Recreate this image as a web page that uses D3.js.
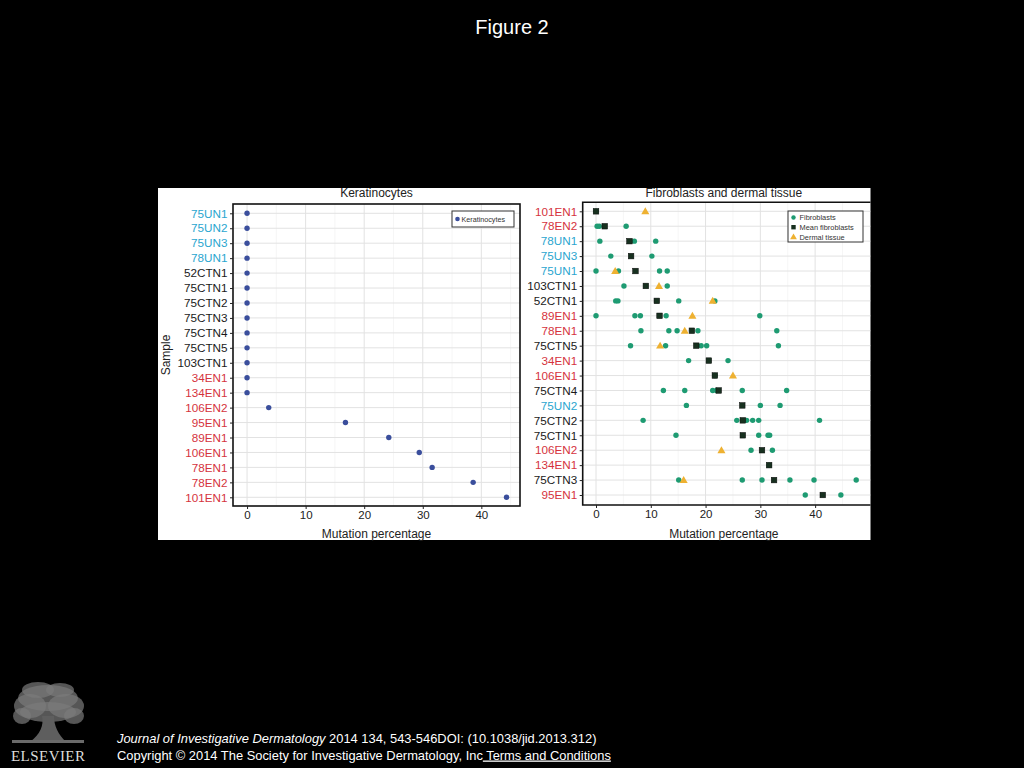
<!DOCTYPE html>
<html><head><meta charset="utf-8">
<script src="https://cdn.jsdelivr.net/npm/d3@7"></script>
<style>html,body{margin:0;padding:0;background:#000;}svg{display:block;font-family:"Liberation Sans",Arial,sans-serif;}</style>
</head><body>
<svg id="c" width="1024" height="768"></svg>
<script>
// ---------- data ----------
const kerSamples = ["75UN1","75UN2","75UN3","78UN1","52CTN1","75CTN1","75CTN2","75CTN3","75CTN4","75CTN5","103CTN1","34EN1","134EN1","106EN2","95EN1","89EN1","106EN1","78EN1","78EN2","101EN1"];
const kerValues = [0,0,0,0,0,0,0,0,0,0,0,0,0,3.7,16.8,24.2,29.4,31.6,38.6,44.3];

const fibSamples = ["101EN1","78EN2","78UN1","75UN3","75UN1","103CTN1","52CTN1","89EN1","78EN1","75CTN5","34EN1","106EN1","75CTN4","75UN2","75CTN2","75CTN1","106EN2","134EN1","75CTN3","95EN1"];
const fibroblastValues = [
  [0],
  [0.2,0.6,5.5],
  [0.7,7.0,10.9],
  [2.7,10.2],
  [0,4.1,11.6,13.0],
  [5.1,13.0],
  [3.6,4.0,15.1,21.7],
  [0,7.1,8.1,12.8,29.9],
  [8.2,13.3,14.8,18.6,33.0],
  [6.3,12.7,19.2,20.2,33.3],
  [16.9,24.1],
  [21.7],
  [12.3,16.2,21.3,22.0,26.7,34.8],
  [16.5,30.0,33.6],
  [8.6,25.7,27.5,28.6,29.7,40.8],
  [14.6,29.7,31.4,31.7],
  [28.3,32.2],
  [31.6],
  [15.1,26.7,30.3,35.4,39.8,47.5],
  [38.2,44.7]
];
const meanFibroblasts = [0,1.6,6.1,6.4,7.2,9.1,11.1,11.6,17.5,18.3,20.6,21.7,22.4,26.7,26.8,26.8,30.3,31.6,32.5,41.4];
const dermalTissue = [9.0,null,null,null,3.5,11.5,21.3,17.6,16.2,11.7,null,25.0,null,null,null,null,22.9,null,16.0,null];

const xTicks = [0,10,20,30,40];
const xMinor = [5,15,25,35,45];

// ---------- style ----------
const C_UN = "#2aa6cf", C_EN = "#d5333d", C_CTN = "#1a1a1a";
const C_KER = "#3a4e9c", C_FIB = "#1e9b72", C_MEAN = "#17301f", C_DERM = "#eeb131";
function labelColor(s){ return s.includes("UN") ? C_UN : (s.includes("EN") ? C_EN : C_CTN); }

const svg = d3.select("#c");
svg.append("rect").attr("width",1024).attr("height",768).attr("fill","#000");
svg.append("text").attr("x",512).attr("y",34).attr("text-anchor","middle")
  .attr("fill","#fff").attr("font-size",20).text("Figure 2");

// white figure area
svg.append("rect").attr("x",158).attr("y",188).attr("width",712.5).attr("height",352).attr("fill","#fff");

function panel(opts){
  const {x, y, samples, left, right, top, bottom, title, clipRight} = opts;
  const g = svg.append("g");
  const cid = "clip"+Math.round(left);
  svg.append("clipPath").attr("id",cid).append("rect")
    .attr("x",left).attr("y",top).attr("width",right-left).attr("height",bottom-top);
  const grid = g.append("g").attr("clip-path",`url(#${cid})`);
  grid.selectAll(".mn").data(xMinor).join("line")
    .attr("x1",d=>x(d)).attr("x2",d=>x(d)).attr("y1",top).attr("y2",bottom)
    .attr("stroke","#f0f0f0").attr("stroke-width",0.6);
  grid.selectAll(".mj").data(xTicks).join("line")
    .attr("x1",d=>x(d)).attr("x2",d=>x(d)).attr("y1",top).attr("y2",bottom)
    .attr("stroke","#e2e2e2").attr("stroke-width",1);
  grid.selectAll(".hy").data(samples).join("line")
    .attr("x1",left).attr("x2",right).attr("y1",d=>y(d)).attr("y2",d=>y(d))
    .attr("stroke","#e2e2e2").attr("stroke-width",1);
  if(!clipRight){
    g.append("rect").attr("x",left).attr("y",top).attr("width",right-left).attr("height",bottom-top)
      .attr("fill","none").attr("stroke","#111").attr("stroke-width",1.6);
  } else {
    g.append("path").attr("d",`M${right},${top}H${left}V${bottom}H${right}`)
      .attr("fill","none").attr("stroke","#111").attr("stroke-width",1.6);
  }
  const ax = g.append("g").attr("transform",`translate(0,${bottom})`)
    .call(d3.axisBottom(x).tickValues(xTicks).tickSize(3).tickPadding(2));
  ax.select(".domain").remove();
  ax.selectAll("line").attr("stroke","#222");
  ax.selectAll("text").attr("font-size",11.5).attr("fill","#222")
    .attr("font-family","Liberation Sans, Arial, sans-serif");
  const ay = g.append("g").attr("transform",`translate(${left},0)`)
    .call(d3.axisLeft(y).tickSize(3).tickPadding(2.5));
  ay.select(".domain").remove();
  ay.selectAll("line").attr("stroke","#222");
  ay.selectAll("text").attr("font-size",11.7).attr("fill",d=>labelColor(d))
    .attr("font-family","Liberation Sans, Arial, sans-serif");
  g.append("text").attr("x",(left+ (opts.titleRight||right))/2).attr("y",197).attr("text-anchor","middle")
    .attr("font-size",12).attr("fill","#222").text(title);
  g.append("text").attr("x",(left+(opts.titleRight||right))/2).attr("y",538).attr("text-anchor","middle")
    .attr("font-size",12).attr("fill","#222").text("Mutation percentage");
  return g;
}

// ---------- left panel ----------
const xK = d3.scaleLinear().domain([-2.4,46.6]).range([233,520]);
const yK = d3.scalePoint().domain(kerSamples).range([213.3,497.3]);
const gK = panel({x:xK,y:yK,samples:kerSamples,left:233,right:520,top:204,bottom:506,title:"Keratinocytes"});
gK.selectAll(".k").data(kerSamples).join("circle")
  .attr("cx",(d,i)=>xK(kerValues[i])).attr("cy",d=>yK(d)).attr("r",2.7).attr("fill",C_KER);
svg.append("text").attr("transform","translate(169.5,355) rotate(-90)").attr("text-anchor","middle")
  .attr("font-size",12).attr("fill","#222").text("Sample");
const lg = svg.append("g");
lg.append("rect").attr("x",452).attr("y",211).attr("width",62).attr("height",16)
  .attr("fill","#fff").attr("stroke","#333").attr("stroke-width",1);
lg.append("circle").attr("cx",457.5).attr("cy",219).attr("r",2.3).attr("fill",C_KER);
lg.append("text").attr("x",461.5).attr("y",221.5).attr("font-size",7.2).attr("fill","#333").text("Keratinocytes");

// ---------- right panel ----------
const xF = d3.scaleLinear().domain([-2.43,50.2]).range([582.7,871]);
const yF = d3.scalePoint().domain(fibSamples).range([211.3,495]);
const gF = panel({x:xF,y:yF,samples:fibSamples,left:582.7,right:870.5,top:202.3,bottom:505,
  title:"Fibroblasts and dermal tissue",clipRight:true,titleRight:865});

const fibPoints = fibSamples.flatMap((s,i)=>fibroblastValues[i].map(v=>({s,v})));
gF.selectAll(".f").data(fibPoints).join("circle")
  .attr("cx",d=>xF(d.v)).attr("cy",d=>yF(d.s)).attr("r",2.7).attr("fill",C_FIB);
gF.selectAll(".m").data(fibSamples).join("rect")
  .attr("x",(d,i)=>xF(meanFibroblasts[i])-2.8).attr("y",d=>yF(d)-2.8)
  .attr("width",5.6).attr("height",5.6).attr("fill",C_MEAN).attr("stroke","#0a0a0a").attr("stroke-width",0.5);
const dermPoints = fibSamples.map((s,i)=>({s,v:dermalTissue[i]})).filter(d=>d.v!==null);
const tri = d3.symbol().type(d3.symbolTriangle).size(28);
gF.selectAll(".d").data(dermPoints).join("path")
  .attr("d",tri).attr("transform",d=>`translate(${xF(d.v)},${yF(d.s)+0.6})`).attr("fill",C_DERM);

const rg = svg.append("g");
rg.append("rect").attr("x",788).attr("y",211).attr("width",75).attr("height",31)
  .attr("fill","#fff").attr("stroke","#333").attr("stroke-width",1);
rg.append("circle").attr("cx",793.5).attr("cy",217.5).attr("r",2.2).attr("fill",C_FIB);
rg.append("rect").attr("x",791.3).attr("y",225).attr("width",4.4).attr("height",4.4).attr("fill",C_MEAN);
rg.append("path").attr("d",d3.symbol().type(d3.symbolTriangle).size(20)).attr("transform","translate(793.5,237.3)").attr("fill",C_DERM);
const legT = ["Fibroblasts","Mean fibroblasts","Dermal tissue"];
rg.selectAll(".lt").data(legT).join("text").attr("x",799.5).attr("y",(d,i)=>220+i*10)
  .attr("font-size",7.4).attr("fill","#333").text(d=>d);

// ---------- footer ----------
const logo = svg.append("g");
const canopy = [[48,698,30,13],[30,706,16,12],[66,706,18,12],[48,712,28,10],[22,716,9,8],[74,716,10,8],[38,690,16,8],[60,690,14,7]];
logo.selectAll("ellipse").data(canopy).join("ellipse")
  .attr("cx",d=>d[0]).attr("cy",d=>d[1]).attr("rx",d=>d[2]).attr("ry",d=>d[3])
  .attr("fill","#7a7a7a").attr("opacity",0.7);
logo.append("path").attr("d","M42,716 C44,726 40,734 30,742 L66,742 C58,734 54,726 54,716 Z").attr("fill","#5e5e5e");
logo.append("rect").attr("x",12).attr("y",740).attr("width",72).attr("height",3).attr("fill","#6a6a6a");
logo.append("text").attr("x",11).attr("y",761).attr("font-family","Liberation Serif, Times New Roman, serif")
  .attr("font-size",15).attr("fill","#ddd").attr("textLength",74).text("ELSEVIER");

const l1 = svg.append("text").attr("x",117).attr("y",742.5).attr("font-size",12.9).attr("fill","#fff");
l1.append("tspan").attr("font-style","italic").text("Journal of Investigative Dermatology");
l1.append("tspan").text(" 2014 134, 543-546DOI: (10.1038/jid.2013.312)");
const l2 = svg.append("text").attr("x",117).attr("y",759.5).attr("font-size",12.9).attr("fill","#fff");
l2.append("tspan").text("Copyright © 2014 The Society for Investigative Dermatology, Inc");
l2.append("tspan").attr("text-decoration","underline").text(" Terms and Conditions");
</script>
</body></html>
